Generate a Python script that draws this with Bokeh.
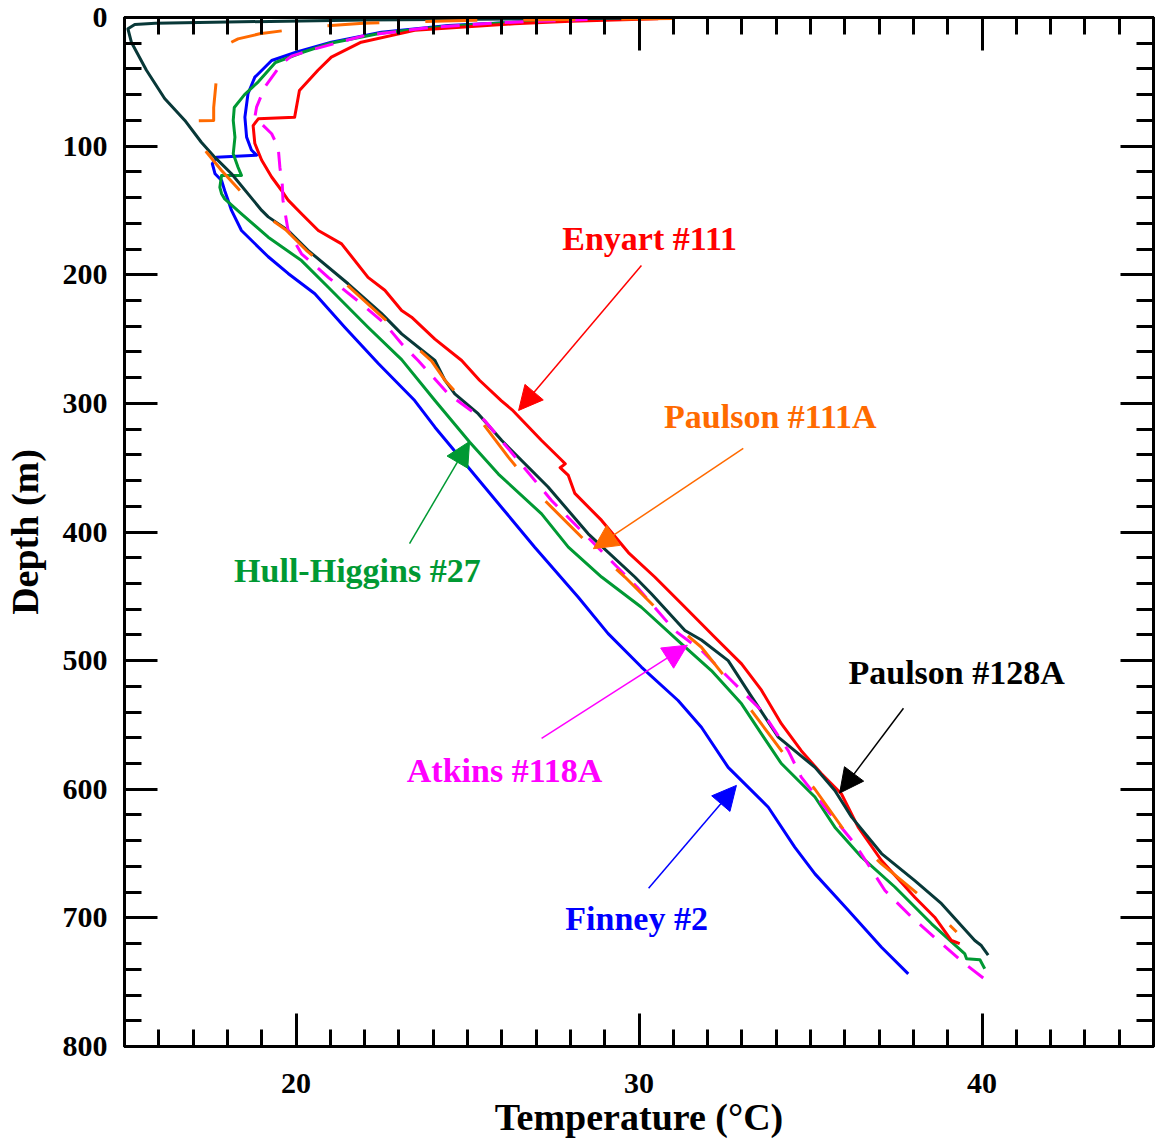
from bokeh.plotting import figure
from bokeh.models import (Range1d, FixedTicker, LinearAxis, Arrow, NormalHead, Label,
                          CustomJSTickFormatter)
from bokeh.embed import file_html
from bokeh.resources import INLINE

# ---------------- data (temperature in °C, depth in m) ----------------
finney_T = [29.0, 26.37, 24.44, 22.49, 21.03, 20.0, 19.29, 18.8, 18.6, 18.51, 18.56, 18.7, 18.85,
            17.68, 17.56, 17.64, 17.83, 17.92, 18.02, 18.12, 18.41, 19.19, 19.77, 20.55, 21.42,
            22.4, 23.46, 24.05, 25.02, 25.99, 26.96, 28.23, 29.1, 30.07, 31.14, 31.82, 32.6,
            33.77, 34.54, 35.13, 36.1, 37.07, 37.85]
finney_D = [0.8, 3.7, 6.2, 11.4, 19.2, 27, 33.4, 46.4, 59.3, 77.5, 93, 103, 107,
            108.6, 113.7, 121.5, 126.7, 134.5, 142, 150, 165.6, 186, 199, 214.8, 240.8,
            269, 297.8, 318.5, 349.6, 380.7, 411.8, 450.7, 479, 505, 531, 551.8, 583,
            614, 645, 665.8, 694, 722.8, 743.5]

hull_T = [29.5, 26.5, 24.4, 22.5, 21.0, 20.2, 19.4, 18.9, 18.5, 18.2, 18.17, 18.22, 18.17, 18.31,
          18.41, 17.83, 17.78, 17.83, 17.92, 18.41, 19.19, 20.16, 20.94, 22.1, 23.08, 24.05,
          25.06, 25.9, 27.16, 27.94, 28.91, 30.07, 31.24, 32.11, 32.99, 33.57, 34.15, 35.13,
          35.71, 36.49, 37.46, 38.53, 39.5, 39.55, 39.94, 40.08]
hull_D = [1, 3.5, 6.8, 12, 20, 27, 35, 50, 60, 70, 80, 93, 106, 116.4,
          122.8, 122.8, 132, 137, 141, 152.6, 170.8, 189, 209.7, 240.8, 266, 297.8,
          330, 355, 385.9, 411.8, 435, 458.5, 487, 507.7, 533.6, 557, 580, 606,
          629.5, 652.8, 676, 704.6, 728, 731.8, 732.6, 739.6]

enyart_T = [30.56, 28.0, 26.37, 23.46, 21.9, 21.03, 20.64, 20.1, 19.96, 18.9, 18.75, 18.8, 19.0,
            19.29, 19.58, 19.77, 20.16, 20.65, 21.33, 22.1, 22.59, 23.08, 23.37, 24.05, 24.83,
            25.35, 25.99, 26.3, 27.16, 27.74, 27.85, 27.7, 27.94, 28.13, 28.91, 29.69, 30.46,
            31.24, 32.21, 32.99, 33.57, 34.15, 34.73, 35.32, 35.9, 36.39, 37.07, 38.04, 38.62,
            39.11, 39.35]
enyart_D = [1.0, 3, 4.9, 10, 19.2, 30.8, 41, 56.7, 77.5, 78.8, 84, 98, 111,
            124, 134.5, 142, 152.6, 165.6, 176, 202, 212, 227.8, 233, 250, 266.7,
            282, 298, 305, 328.9, 344, 347, 350, 356, 370, 391, 416, 435,
            455.8, 481.8, 502.5, 523, 549, 570, 588, 603.5, 629.5, 655.4, 684, 699.5,
            717.6, 720]

p128_T = [30.0, 22.0, 18.0, 15.9, 15.3, 15.1, 15.2, 15.64, 16.17, 16.76, 17.24, 17.63, 18.12,
          19.0, 19.19, 19.77, 20.35, 21.52, 22.49, 23.08, 24.05, 24.34, 24.63, 25.31, 26.0,
          27.35, 28.52, 29.88, 30.36, 31.34, 31.82, 32.6, 33.28, 34.06, 35.13, 35.71, 36.2,
          37.07, 38.04, 38.82, 39.79, 39.98, 40.18]
p128_D = [0.5, 2, 3.5, 4.4, 5.4, 8.8, 19.2, 41, 63, 80, 97, 108.6, 121.5,
          150, 155, 165.6, 181, 207, 230, 246, 266.7, 282, 292.6, 308, 328.9,
          365, 401.4, 435, 448, 476.6, 484, 500, 528, 559.5, 583, 601, 621.7,
          650, 671, 689, 717.6, 721.5, 729]

atkins_T = [28.5, 26.0, 24.0, 22.0, 20.55, 19.87, 19.58, 19.09, 18.85, 18.8, 19.29, 19.48, 19.53,
            19.6, 19.62, 19.77, 20.16, 20.94, 21.91, 22.59, 23.08, 23.56, 24.44, 25.5, 25.99,
            27.45, 28.91, 29.95, 31.04, 31.82, 32.79, 33.57, 34.35, 34.73, 35.42, 36.29, 37.17,
            37.95, 38.72, 39.5, 40.32]
atkins_D = [1.5, 4, 7.5, 14, 24.4, 30, 36, 54, 69.7, 77.5, 90.4, 100.8, 116.4,
            130, 142, 165.6, 183.7, 202, 222.6, 238, 253.7, 266.7, 292.6, 313.3, 328.9,
            375.5, 415, 443, 476.6, 492, 518, 538.8, 570, 590.6, 614, 642.4, 678.7,
            699.5, 717.6, 735.7, 752.6]

p111_T = [31.0, 28.0, 24.9, 21.96, 20.4, 18.94, 18.31, 18.02, 17.73, 17.6, 17.6, 16.85, 17.0,
          17.4, 17.83, 18.9, 19.7, 20.3, 21.45, 22.4, 23.95, 24.34, 25.31, 26.19, 27.16,
          28.52, 29.59, 30.66, 31.82, 33.28, 34.15, 35.13, 35.95, 37.07, 38.19, 39.26]
p111_D = [0.8, 1.5, 2.3, 4.4, 7.5, 12.7, 16.6, 20.5, 33.4, 70, 80, 80.6, 90.4,
          105, 119, 150, 165, 181, 207, 230, 267, 282, 310.7, 341.8, 373,
          409.2, 435, 463.6, 489.6, 538.8, 570, 600, 630.8, 658, 682.6, 711]

# labels: (text, T, depth-baseline, color, arrow start T, arrow start D, arrow end T, arrow end D)
annotations = [
    ("Enyart #111", 30.31, 172.0, "#ff0000", 30.07, 192.8, 26.49, 305.5),
    ("Paulson #111A", 33.83, 310.3, "#ff6a00", 33.04, 335.0, 28.67, 413.0),
    ("Hull-Higgins #27", 21.79, 430.0, "#009933", 23.31, 409.0, 25.06, 329.6),
    ("Atkins #118A", 26.08, 585.5, "#ff00ff", 27.16, 560.5, 31.41, 488.0),
    ("Paulson #128A", 39.26, 509.3, "#000000", 37.71, 537.0, 35.85, 603.0),
    ("Finney #2", 29.93, 700.6, "#0000ff", 30.28, 677.0, 32.84, 597.0),
]

x_major = [20, 30, 40]
x_minor = list(range(15, 46))
y_major = list(range(0, 801, 100))
y_minor = list(range(0, 801, 20))

SERIF = "Liberation Serif"

p = figure(width=1155, height=1141, output_backend="svg", toolbar_location=None,
           x_range=Range1d(15, 45), y_range=Range1d(800, 0),
           min_border_left=123, min_border_right=2, min_border_top=17, min_border_bottom=95,
           x_axis_label="Temperature (°C)", y_axis_label="Depth (m)")
p.xgrid.visible = False
p.ygrid.visible = False
p.outline_line_color = "black"
p.outline_line_width = 3
p.background_fill_color = "white"
p.border_fill_color = "white"


def style_axis(ax, show_labels=True):
    ax.axis_line_color = "black"
    ax.axis_line_width = 3
    ax.major_tick_in = 33
    ax.major_tick_out = 0
    ax.minor_tick_in = 17
    ax.minor_tick_out = 0
    ax.major_tick_line_width = 3
    ax.minor_tick_line_width = 3
    ax.major_tick_line_color = "black"
    ax.minor_tick_line_color = "black"
    if show_labels:
        ax.major_label_text_font = SERIF
        ax.major_label_text_font_style = "bold"
        ax.major_label_text_font_size = "30px"
        ax.major_label_text_color = "black"
        ax.axis_label_text_font = SERIF
        ax.axis_label_text_font_style = "bold"
        ax.axis_label_text_font_size = "38px"
        ax.axis_label_text_color = "black"
    else:
        ax.formatter = CustomJSTickFormatter(code="return ''")
        ax.major_label_text_font_size = "8px"
        ax.major_label_standoff = 0


xax = p.xaxis[0]
xax.ticker = FixedTicker(ticks=x_major, minor_ticks=x_minor)
style_axis(xax)
xax.major_label_standoff = 27
xax.axis_label_standoff = 0

yax = p.yaxis[0]
yax.ticker = FixedTicker(ticks=y_major, minor_ticks=y_minor)
style_axis(yax)
yax.major_label_standoff = 17
yax.axis_label_standoff = 14

top_ax = LinearAxis(ticker=FixedTicker(ticks=x_major, minor_ticks=x_minor))
style_axis(top_ax, show_labels=False)
p.add_layout(top_ax, "above")
right_ax = LinearAxis(ticker=FixedTicker(ticks=y_major, minor_ticks=y_minor))
style_axis(right_ax, show_labels=False)
p.add_layout(right_ax, "right")

LW = 3
p.line(finney_T, finney_D, line_color="#0000ff", line_width=LW, line_join="round")
p.line(hull_T, hull_D, line_color="#009933", line_width=LW, line_join="round")
p.line(enyart_T, enyart_D, line_color="#ff0000", line_width=LW, line_join="round")
p.line(p128_T, p128_D, line_color="#083838", line_width=LW, line_join="round")
p.line(atkins_T, atkins_D, line_color="#ff00ff", line_width=LW, line_join="round",
       line_dash="19 13")
p.line(p111_T, p111_D, line_color="#ff6a00", line_width=LW, line_join="round",
       line_dash="52 46")

for text, tx, ty, col, xs, ys, xe, ye in annotations:
    p.add_layout(Arrow(end=NormalHead(size=24, fill_color=col, line_color=col, line_width=1),
                       x_start=xs, y_start=ys, x_end=xe, y_end=ye,
                       line_color=col, line_width=1.5))
    p.add_layout(Label(x=tx, y=ty, text=text, text_color=col, text_font=SERIF,
                       text_font_style="bold", text_font_size="34px",
                       text_align="center", text_baseline="alphabetic"))

open("out.html", "w").write(file_html(p, INLINE))
